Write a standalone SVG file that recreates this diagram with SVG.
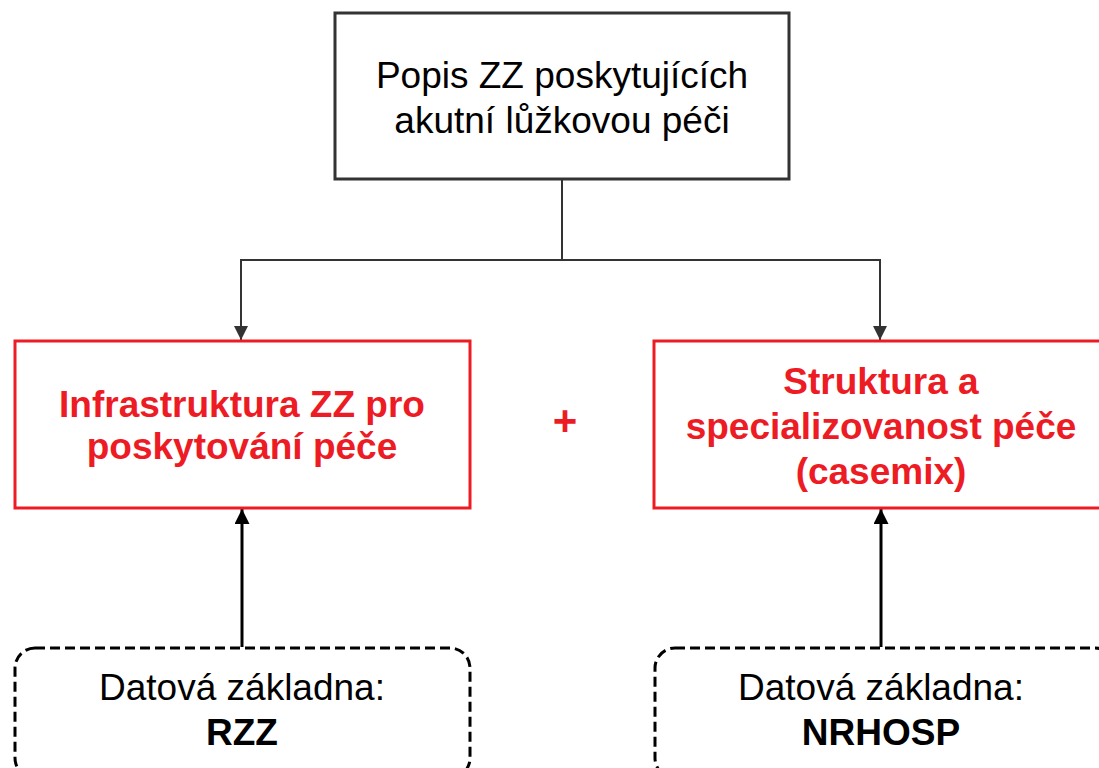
<svg xmlns="http://www.w3.org/2000/svg" width="1099" height="768" viewBox="0 0 1099 768">
<style>
text{font-family:"Liberation Sans",Arial,sans-serif;text-anchor:middle}
.t{font-size:37px;fill:#000}
.r{font-size:37px;font-weight:bold;fill:#ed1c24}
.d{font-size:37px;fill:#000}
.b{font-size:37px;font-weight:bold;fill:#000}
.box{fill:#fff;stroke:#333;stroke-width:3}
.red{fill:#fff;stroke:#ed1c24;stroke-width:3}
.dash{fill:#fff;stroke:#000;stroke-width:3;stroke-dasharray:10 5}
.g{fill:none;stroke:#333;stroke-width:2}
.k{fill:none;stroke:#000;stroke-width:3}
</style>
<defs>
<marker id="ag" viewBox="0 0 10 10" refX="10" refY="5" markerWidth="7" markerHeight="7" orient="auto" markerUnits="strokeWidth"><path d="M0,0L10,5L0,10z" fill="#333"/></marker>
<marker id="ak" viewBox="0 0 10 10" refX="10" refY="5" markerWidth="5" markerHeight="5" orient="auto" markerUnits="strokeWidth"><path d="M0,0L10,5L0,10z" fill="#000"/></marker>
</defs>
<g id="connectors">
<path class="g" d="M562,180V260M562,260H241V340" marker-end="url(#ag)"/>
<path class="g" d="M562,260H880V340" marker-end="url(#ag)"/>
<path class="k" d="M242,647V509" marker-end="url(#ak)"/>
<path class="k" d="M881,647V509" marker-end="url(#ak)"/>
</g>
<g id="top">
<rect class="box" x="335" y="13" width="454" height="166"/>
<text class="t" x="562" y="88">Popis ZZ poskytujících</text>
<text class="t" x="562" y="133">akutní lůžkovou péči</text>
</g>
<g id="infra">
<rect class="red" x="15" y="341" width="455" height="167"/>
<text class="r" x="242" y="417">Infrastruktura ZZ pro</text>
<text class="r" x="242" y="459">poskytování péče</text>
</g>
<g id="plus">
<text class="r" x="565" y="435" style="font-size:42px">+</text>
</g>
<g id="struktura">
<rect class="red" x="654" y="341" width="460" height="167"/>
<text class="r" x="881" y="394">Struktura a</text>
<text class="r" x="881" y="439">specializovanost péče</text>
<text class="r" x="881" y="484">(casemix)</text>
</g>
<g id="rzz">
<rect class="dash" x="15" y="648" width="455" height="130" rx="20"/>
<text class="d" x="242" y="700">Datová základna:</text>
<text class="b" x="242" y="745">RZZ</text>
</g>
<g id="nrhosp">
<rect class="dash" x="655" y="648" width="460" height="130" rx="20"/>
<text class="d" x="881" y="700">Datová základna:</text>
<text class="b" x="881" y="745">NRHOSP</text>
</g>
</svg>
